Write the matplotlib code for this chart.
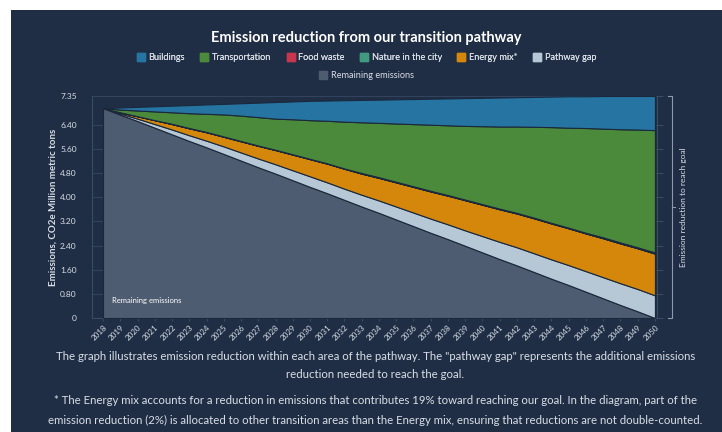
import numpy as np
import matplotlib
matplotlib.use("Agg")
from matplotlib import pyplot as plt
from matplotlib.lines import Line2D
from matplotlib.patches import Rectangle

plt.rcParams['font.family'] = ['Lato', 'DejaVu Sans']

years = list(range(2018, 2051))

remaining = [6.95, 6.73, 6.52, 6.30, 6.08, 5.86, 5.65, 5.43, 5.21, 4.99, 4.78,
             4.56, 4.34, 4.13, 3.91, 3.69, 3.48, 3.26, 3.04, 2.82, 2.61, 2.39,
             2.17, 1.95, 1.74, 1.52, 1.30, 1.09, 0.87, 0.65, 0.43, 0.22, 0.00]
pathway_gap = [0.00, 0.04, 0.08, 0.12, 0.16, 0.19, 0.22, 0.25, 0.27, 0.29, 0.31,
               0.33, 0.35, 0.36, 0.37, 0.39, 0.41, 0.43, 0.45, 0.47, 0.49, 0.51,
               0.54, 0.57, 0.60, 0.62, 0.64, 0.66, 0.68, 0.70, 0.72, 0.74, 0.75]
energy_mix = [0.00, 0.04, 0.08, 0.13, 0.18, 0.23, 0.28, 0.32, 0.37, 0.42, 0.47,
              0.52, 0.57, 0.62, 0.66, 0.70, 0.75, 0.80, 0.85, 0.90, 0.95, 1.00,
              1.04, 1.08, 1.12, 1.16, 1.19, 1.22, 1.25, 1.29, 1.32, 1.35, 1.38]
nature = [0.00, 0.00, 0.00, 0.00, 0.00, 0.00, 0.00, 0.00, 0.00, 0.00, 0.00,
          0.00, 0.00, 0.00, 0.00, 0.00, 0.00, 0.00, 0.00, 0.00, 0.00, 0.00,
          0.00, 0.00, 0.00, 0.00, 0.00, 0.00, 0.00, 0.00, 0.00, 0.00, 0.01]
food_waste = [0.00, 0.00, 0.00, 0.00, 0.01, 0.01, 0.01, 0.01, 0.01, 0.01, 0.01,
              0.01, 0.01, 0.01, 0.01, 0.02, 0.02, 0.02, 0.02, 0.02, 0.02, 0.02,
              0.02, 0.02, 0.02, 0.02, 0.02, 0.02, 0.02, 0.03, 0.03, 0.03, 0.03]
transportation = [0.00, 0.09, 0.19, 0.29, 0.38, 0.49, 0.60, 0.73, 0.84, 0.94, 1.03,
                  1.16, 1.28, 1.41, 1.55, 1.68, 1.80, 1.93, 2.06, 2.19, 2.31, 2.44,
                  2.58, 2.72, 2.86, 3.01, 3.17, 3.31, 3.47, 3.60, 3.75, 3.90, 4.05]
buildings = [0.00, 0.07, 0.12, 0.17, 0.22, 0.27, 0.31, 0.35, 0.41, 0.48, 0.55,
             0.59, 0.64, 0.67, 0.71, 0.74, 0.77, 0.80, 0.83, 0.86, 0.89, 0.92,
             0.94, 0.96, 0.97, 0.99, 1.01, 1.04, 1.05, 1.08, 1.10, 1.11, 1.13]

y_ticks = [0, 0.80, 1.60, 2.40, 3.20, 4.00, 4.80, 5.60, 6.40, 7.35]
y_labels = ["0", "0.80", "1.60", "2.40", "3.20", "4.00", "4.80", "5.60", "6.40", "7.35"]

legend_names = ["Buildings", "Transportation", "Food waste", "Nature in the city",
                "Energy mix*", "Pathway gap", "Remaining emissions"]

bg = "#1f2e45"
c_build = "#2574a2"
c_trans = "#4a8a3a"
c_food = "#c8364e"
c_nature = "#3f9a80"
c_energy = "#d4870a"
c_gap = "#b6c7d5"
c_remain = "#4e5c71"
edge = "#1b283c"
txt = "#d9dee6"

fig = plt.figure(figsize=(7.22, 4.32), dpi=100)
fig.patch.set_facecolor("white")
fig.patches.append(Rectangle((11 / 722, 0), 1, 422 / 432, transform=fig.transFigure,
                             facecolor=bg, edgecolor="none", zorder=-10))

ax = fig.add_axes([92 / 722, 1 - 318 / 432, 565 / 722, 222 / 432])
ax.set_facecolor(bg)

ax.stackplot(years, remaining, pathway_gap, energy_mix, nature, food_waste,
             transportation, buildings,
             colors=[c_remain, c_gap, c_energy, c_nature, c_food, c_trans, c_build],
             edgecolor=edge, linewidth=0.8, zorder=3)

ax.set_xlim(2017.36, 2050.12)
ax.set_ylim(0, 7.35)
ax.set_yticks(y_ticks)
ax.set_yticklabels(y_labels)
ax.set_xticks(years)
ax.set_xticklabels([str(y) for y in years], rotation=45, ha="right", rotation_mode="anchor")
ax.tick_params(axis="x", colors=txt, labelsize=5.8, length=2, color="#3a4b63", pad=2)
ax.tick_params(axis="y", colors=txt, labelsize=6, length=0, pad=11)
ax.grid(axis="y", color="#33455e", linewidth=0.7, zorder=0)
ax.spines["top"].set_visible(False)
for s in ["left", "bottom", "right"]:
    ax.spines[s].set_color("#3a4b63")
    ax.spines[s].set_linewidth(0.8)

# right side ticks without labels
ax_r = ax.twinx()
ax_r.set_ylim(ax.get_ylim())
ax_r.set_yticks(y_ticks)
ax_r.set_yticklabels([])
ax_r.tick_params(axis="y", length=4, color="#3a4b63", width=0.8)
for s in ax_r.spines.values():
    s.set_visible(False)

ax.set_ylabel("Emissions, CO2e Million metric tons", color=txt, fontsize=7,
              fontweight="bold", labelpad=2)

# bracket on the right
bx = 1.027
ax.plot([bx - 0.008, bx, bx, bx - 0.008], [1, 1, 0, 0], transform=ax.transAxes,
        color="#8d99a8", linewidth=0.8, clip_on=False)
ax.plot([bx, bx + 0.005], [0.5, 0.5], transform=ax.transAxes,
        color="#8d99a8", linewidth=0.8, clip_on=False)
ax.text(1.047, 0.5, "Emission reduction to reach goal", transform=ax.transAxes,
        rotation=90, va="center", ha="center", color=txt, fontsize=6)

ax.text(2018.5, 0.5, "Remaining emissions", color="white", fontsize=5.5, zorder=5)

fig.text(0.507, 1 - 38 / 432, "Emission reduction from our transition pathway",
         ha="center", va="center", color="white", fontsize=10.5, fontweight="bold")

handles = [Line2D([], [], marker="s", linestyle="none", markersize=5.5,
                  markerfacecolor=c, markeredgecolor=c)
           for c in [c_build, c_trans, c_food, c_nature, c_energy, c_gap, c_remain]]
leg1 = fig.legend(handles[:6], legend_names[:6], loc="center", ncol=6,
                  bbox_to_anchor=(0.507, 1 - 58 / 432), frameon=False, fontsize=6.6,
                  labelcolor=txt, handletextpad=0.35, columnspacing=1.6,
                  handlelength=1.0)
leg2 = fig.legend(handles[6:], legend_names[6:], loc="center", ncol=1,
                  bbox_to_anchor=(0.507, 1 - 76 / 432), frameon=False, fontsize=6.6,
                  labelcolor=txt, handletextpad=0.35, handlelength=1.0)
fig.add_artist(leg1)

notes = [
    ("The graph illustrates emission reduction within each area of the pathway. "
     "The \"pathway gap\" represents the additional emissions", 357),
    ("reduction needed to reach the goal.", 375),
    ("* The Energy mix accounts for a reduction in emissions that contributes 19% toward "
     "reaching our goal. In the diagram, part of the", 400),
    ("emission reduction (2%) is allocated to other transition areas than the Energy mix, "
     "ensuring that reductions are not double-counted.", 420),
]
for line, ypix in notes:
    fig.text(0.52, 1 - ypix / 432, line, ha="center", va="center", color=txt, fontsize=8.2)

fig.savefig("out.png", dpi=100, facecolor=fig.get_facecolor())
